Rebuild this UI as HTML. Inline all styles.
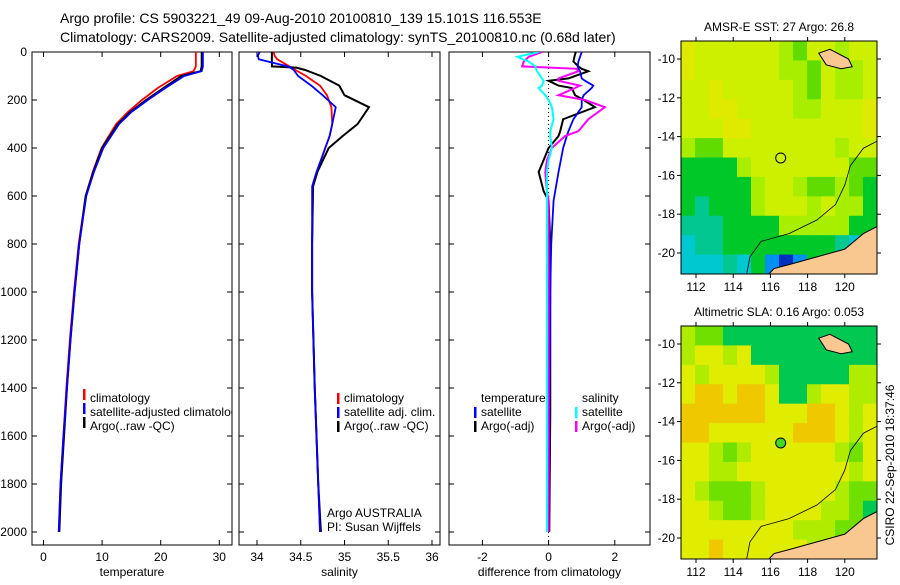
<!DOCTYPE html>
<html><head><meta charset="utf-8"><style>
body{margin:0;background:#fff}
svg text{font-family:"Liberation Sans",sans-serif;font-size:12px;fill:#000}
svg text.ttl{font-size:14px}
</style></head><body>
<svg id="c" width="900" height="580" xmlns="http://www.w3.org/2000/svg">
<text class="ttl" x="60" y="23">Argo profile: CS 5903221_49 09-Aug-2010 20100810_139 15.101S 116.553E</text>
<text class="ttl" x="60" y="42">Climatology: CARS2009. Satellite-adjusted climatology: synTS_20100810.nc (0.68d later)</text>
<g id="g"></g>
<text transform="translate(894,465) rotate(-90)" text-anchor="middle">CSIRO 22-Sep-2010 18:37:46</text>
</svg>
<script>
// ---- data ----
const tDepth=[0,60,80,100,150,200,250,300,400,500,600,800,1000,1200,1400,1600,1800,2000];
const tClim=[26.0,26.0,25.6,22.8,19.5,16.8,14.4,12.4,9.9,8.4,7.2,6.0,5.2,4.5,3.9,3.4,2.9,2.6];
const tSat=[27.2,27.2,27.0,24.0,20.8,17.8,15.0,12.9,10.2,8.6,7.3,6.1,5.3,4.6,4.0,3.4,2.9,2.6];
const tArgo=[27.0,27.0,26.8,23.5,20.5,17.5,14.8,12.7,10.0,8.5,7.2,6.1,5.3,4.6,4.0,3.5,3.0,2.7];
const sDepth=[0,15,30,60,65,75,100,140,180,230,300,350,400,500,560,800,1000,1400,1800,2000];
const sClim=[34.19,34.2,34.23,34.37,34.4,34.44,34.56,34.72,34.8,34.85,34.86,34.83,34.78,34.69,34.64,34.63,34.63,34.66,34.7,34.72];
const sSat=[34.03,34.01,34.02,34.35,34.38,34.42,34.47,34.62,34.75,34.9,34.86,34.83,34.78,34.68,34.63,34.63,34.63,34.66,34.7,34.72];
const sArgo=[34.17,34.17,34.17,34.17,34.45,34.55,34.73,34.94,35.0,35.28,35.15,34.98,34.82,34.69,34.64,34.63,34.63,34.66,34.7,34.73];
const dDepth=[0,20,40,60,70,80,110,120,140,150,180,200,230,280,330,350,400,450,500,580,620,800,1000,1500,2000];
const dTSat=[1.0,0.95,0.9,0.88,0.9,0.95,1.0,1.1,1.35,1.3,1.06,1.0,1.0,0.75,0.6,0.55,0.44,0.37,0.3,0.2,0.15,0.08,0.05,0.02,0.0];
const dTArgo=[0.82,0.78,0.75,0.9,1.0,1.2,0.6,0.0,0.3,0.7,0.8,1.06,1.4,0.44,0.35,0.3,0.0,-0.15,-0.3,-0.15,0.0,0.05,0.05,0.05,0.02];
const dSSat=[-0.3,-0.94,-0.6,-0.4,-0.38,-0.35,-0.2,-0.15,-0.2,-0.3,-0.1,0.0,0.1,0.15,0.05,0.05,0.1,0.0,-0.05,-0.05,-0.05,-0.05,-0.05,-0.05,-0.05];
const dSArgo=[-0.2,-0.6,-0.75,-0.8,0.85,0.9,0.3,0.3,0.95,0.8,0.3,1.1,1.7,1.2,0.9,0.5,0.1,-0.05,-0.1,-0.05,0.0,0.0,0.0,0.0,0.0];
const depthTicks=[0,200,400,600,800,1000,1200,1400,1600,1800,2000];
const tempTicks=[0,10,20,30], salTicks=[34,34.5,35,35.5,36], diffTicks=[-2,0,2];
const sstGrid=["oyyyyyylgyylyy","oyyyyyyllgylly","yyoyyyyylgylly","yyooyyyyllyyyo","yyyooyyyyyyyyo","lggyyyyyyyylyy","GGGGlyyyyyyygg","GGGGGlyylgglgG","GtGGGlyyylyllG","tttGGGGlllllGG","cttGGGGGGGGtcb","ccctcGbBbGGbBB"];
const slaGrid=["lggGGGGGGGGGGG","lyylyGGGGGGGGG","ylyyyylGGGGGll","yooyooyGGlyyll","ooooooyyyooyly","ooyyyyyyoooyly","yylglyyyyyylgy","yyllyyyyyyyyly","ylggglyyyyylgg","yylgglyyyyllgG","yyyyyyyylllggG","yyoyyyyyyllgGG"];
const sstPal={o:"#e0ea00",y:"#ccf000",l:"#a8ee00",g:"#60dc00",G:"#00c828",t:"#00c890",c:"#00c8d0",b:"#0090f0",B:"#0030c0"};
const slaPal={o:"#f0c800",y:"#e0ec00",l:"#b0ec00",g:"#70e000",G:"#00c850"};
const lonTicks=[112,114,116,118,120], latTicks=[10,12,14,16,18,20];
const landS=[[115.8,21.2],[116.2,20.8],[117,20.6],[118.5,20.2],[120,19.8],[121,19],[121.8,18.6],[121.8,21.2]];
const island=[[118.6,9.7],[119.2,9.5],[120.2,10.0],[120.4,10.4],[119.8,10.5],[119,10.3]];
const contour=[[114.7,21.2],[114.9,20.2],[115.5,19.4],[117,19],[118.5,18.3],[119.5,17.5],[120,16.5],[120.3,15.5],[121,14.6],[121.8,14.2]];
const argoLon=116.553, argoLat=15.101;

const NS="http://www.w3.org/2000/svg", G=document.getElementById('g');
function el(t,a,p){const e=document.createElementNS(NS,t);for(const k in a)e.setAttribute(k,a[k]);(p||G).appendChild(e);return e;}
const yD=d=>52+d*0.24;
function panel(x0,x1,name,xs,ticks,fmt,label,showY){
  const r=el('rect',{x:x0,y:52,width:x1-x0,height:493,fill:'none',stroke:'#000','stroke-width':1});
  
  
  depthTicks.forEach(d=>{el('line',{x1:x0,x2:x0+5,y1:yD(d),y2:yD(d),stroke:'#000'});el('line',{x1:x1-5,x2:x1,y1:yD(d),y2:yD(d),stroke:'#000'});
    if(showY){const t=el('text',{x:x0-5,y:yD(d)+4,'text-anchor':'end'});t.textContent=d;
      
      }});
  ticks.forEach(v=>{const x=xs(v);el('line',{x1:x,x2:x,y1:545,y2:540,stroke:'#000'});el('line',{x1:x,x2:x,y1:52,y2:57,stroke:'#000'});
    const t=el('text',{x:x,y:561,'text-anchor':'middle'});t.textContent=fmt(v);
    
    });
  const l=el('text',{x:(x0+x1)/2,y:576,'text-anchor':'middle'});l.textContent=label;
  
  
}
function line(xs,vals,deps,col,name,w,clip){
  const p=el('polyline',{points:vals.map((v,i)=>xs(v)+','+yD(deps[i])).join(' '),fill:'none',stroke:col,'stroke-width':w||2,'clip-path':clip});
  
  
}
function clipRect(id,x0,x1){const c=el('clipPath',{id:id});el('rect',{x:x0,y:52,width:x1-x0,height:493},c);}
function legend(x,y,col,txt,name){el('rect',{x:x,y:y-9,width:2.5,height:11,fill:col});const t=el('text',{x:x+7,y:y});t.textContent=txt;
  
  }
// panel 1
const xT=v=>43.5+5.86*v;
clipRect('c1',32,232);
panel(32,232,'temperature-panel',xT,tempTicks,v=>v,'temperature',true);
line(xT,tClim,tDepth,'#f00','temp-climatology-line',1.8,'url(#c1)');
line(xT,tArgo,tDepth,'#000','temp-argo-line',2,'url(#c1)');
line(xT,tSat,tDepth,'#00f','temp-satellite-line',1.8,'url(#c1)');
const cl=el('g',{'clip-path':'url(#c1)'});
[["#f00","climatology"],["#00f","satellite-adjusted climatology"],["#000","Argo(..raw -QC)"]].forEach((a,i)=>{
  el('rect',{x:83,y:389+14*i,width:2.5,height:11,fill:a[0]},cl);const t=el('text',{x:90,y:402+14*i},cl);t.textContent=a[1];
  
  });
// panel 2
const xS=v=>257+87.5*(v-34);
clipRect('c2',239,440);
panel(239,440,'salinity-panel',xS,salTicks,v=>v,'salinity',false);
line(xS,sClim,sDepth,'#f00','sal-climatology-line',1.8,'url(#c2)');
line(xS,sArgo,sDepth,'#000','sal-argo-line',2,'url(#c2)');
line(xS,sSat,sDepth,'#00f','sal-satellite-line',1.8,'url(#c2)');
legend(337,402,'#f00','climatology','sal-legend-climatology');
legend(337,416,'#00f','satellite adj. clim.','sal-legend-satellite');
legend(337,430,'#000','Argo(..raw -QC)','sal-legend-argo');
[["Argo AUSTRALIA",517],["PI: Susan Wijffels",531]].forEach(a=>{const t=el('text',{x:327,y:a[1]});t.textContent=a[0];
  
  });
// panel 3
const xDf=v=>548.6+33.1*v;
clipRect('c3',449,650);
panel(449,650,'difference-panel',xDf,diffTicks,v=>v,'difference from climatology',false);
el('line',{x1:xDf(0),x2:xDf(0),y1:52,y2:545,stroke:'#000','stroke-dasharray':'1,3'});
line(xDf,dTArgo,dDepth,'#000','diff-temp-argo-line',2,'url(#c3)');
line(xDf,dTSat,dDepth,'#00f','diff-temp-satellite-line',1.8,'url(#c3)');
line(xDf,dSArgo,dDepth,'#f0f','diff-sal-argo-line',2,'url(#c3)');
line(xDf,dSSat,dDepth,'#0ff','diff-sal-satellite-line',2,'url(#c3)');
{const t=el('text',{x:481,y:402});t.textContent='temperature';
  
  
 const s=el('text',{x:582,y:402});s.textContent='salinity';
  
  }
legend(474,416,'#00f','satellite','diff-legend-temp-satellite');
legend(474,430,'#000','Argo(-adj)','diff-legend-temp-argo');
legend(575,416,'#0ff','satellite','diff-legend-sal-satellite');
legend(575,430,'#f0f','Argo(-adj)','diff-legend-sal-argo');
// maps
function map(top,bot,lat10y,lat20y,grid,pal,title,name,fillDot){
  const X0=681,X1=877, lx=v=>696+(v-112)*18.6, ly=v=>lat10y+(v-10)*(lat20y-lat10y)/10;
  const lonL=112+(X0-696)/18.6, lonR=112+(X1-696)/18.6, latT=10+(top-lat10y)*10/(lat20y-lat10y), latB=10+(bot-lat10y)*10/(lat20y-lat10y);
  const rows=grid.length, cols=grid[0].length, cw=(lonR-lonL)/cols, ch=(latB-latT)/rows;
  const cid='m'+top; const c=el('clipPath',{id:cid}); el('rect',{x:X0,y:top,width:X1-X0,height:bot-top},c);
  const mg=el('g',{'clip-path':'url(#'+cid+')'});
  
  
  grid.forEach((row,r)=>[...row].forEach((k,ci)=>{
    const x=lx(lonL+ci*cw), y=ly(latT+r*ch);
    el('rect',{x:x,y:y,width:lx(lonL+(ci+1)*cw)-x+0.5,height:ly(latT+(r+1)*ch)-y+0.5,fill:pal[k]},mg);}));
  const pts=a=>a.map(p=>lx(p[0])+','+ly(p[1])).join(' ');
  el('polygon',{points:pts(landS),fill:'#f8c890',stroke:'#000','stroke-width':1},mg);
  el('polygon',{points:pts(island),fill:'#f8c890',stroke:'#000','stroke-width':1},mg);
  el('polyline',{points:pts(contour),fill:'none',stroke:'#000','stroke-width':0.8},mg);
  const dot=el('circle',{cx:lx(argoLon),cy:ly(argoLat),r:5,fill:fillDot,stroke:'#000'});
  
  
  el('rect',{x:X0,y:top,width:X1-X0,height:bot-top,fill:'none',stroke:'#000'});
  lonTicks.forEach(v=>{el('line',{x1:lx(v),x2:lx(v),y1:bot,y2:bot+4,stroke:'#000'});el('line',{x1:lx(v),x2:lx(v),y1:top,y2:top-4,stroke:'#000'});
    const t=el('text',{x:lx(v),y:bot+17,'text-anchor':'middle'});t.textContent=v;
    
    });
  latTicks.forEach(v=>{el('line',{x1:X0,x2:X0-4,y1:ly(v),y2:ly(v),stroke:'#000'});el('line',{x1:X1,x2:X1+4,y1:ly(v),y2:ly(v),stroke:'#000'});
    const t=el('text',{x:X0-6,y:ly(v)+4,'text-anchor':'end'});t.textContent='-'+v;
    
    });
  const tt=el('text',{x:(X0+X1)/2,y:top-10,'text-anchor':'middle'});tt.textContent=title;
  
  
}
map(41,274,59,253,sstGrid,sstPal,'AMSR-E SST: 27 Argo: 26.8','sst-map','none');
map(326,559,344,538,slaGrid,slaPal,'Altimetric SLA: 0.16 Argo: 0.053','sla-map','#40d820');
</script>
</body></html>
